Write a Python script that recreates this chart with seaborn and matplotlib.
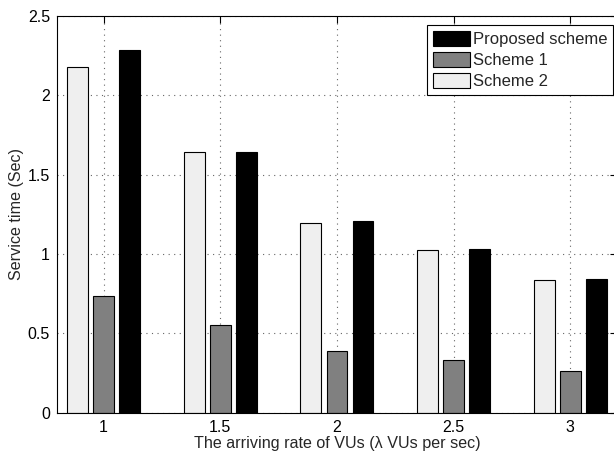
import matplotlib
matplotlib.use("Agg")
import matplotlib.pyplot as plt
import pandas as pd
import seaborn as sns

# Arrival rate (lambda VUs per sec) and mean service time of each scheme
rates = [1.0, 1.5, 2.0, 2.5, 3.0]
scheme2 = [2.18, 1.64, 1.195, 1.025, 0.835]
scheme1 = [0.735, 0.555, 0.39, 0.332, 0.263]
proposed = [2.288, 1.645, 1.206, 1.034, 0.84]

series_names = ["Scheme 2", "Scheme 1", "Proposed scheme"]
legend_order = ["Proposed scheme", "Scheme 1", "Scheme 2"]
x_tick_labels = ["1", "1.5", "2", "2.5", "3"]
y_ticks = [0, 0.5, 1.0, 1.5, 2.0, 2.5]
y_tick_labels = ["0", "0.5", "1", "1.5", "2", "2.5"]

df = pd.DataFrame({
    "rate": rates * 3,
    "time": scheme2 + scheme1 + proposed,
    "scheme": [n for n in series_names for _ in rates],
})

sns.set_style("white")
plt.rcParams["font.family"] = ["Liberation Sans", "DejaVu Sans"]

fig = plt.figure(figsize=(6.14, 4.54), dpi=100)
ax = fig.add_axes([0.0928, 0.091, 0.912, 0.874])
ax.set_axisbelow(True)

palette = {"Scheme 2": "#efefef", "Scheme 1": "#808080", "Proposed scheme": "#000000"}
sns.barplot(data=df, x="rate", y="time", hue="scheme", hue_order=series_names,
            palette=palette, native_scale=True, width=0.67, gap=0.2,
            edgecolor="black", linewidth=0.8, errorbar=None, saturation=1,
            ax=ax)

ax.set_xlim(0.8, 3.2)
ax.set_ylim(0, 2.5)
ax.set_xticks(rates)
ax.set_xticklabels(x_tick_labels)
ax.set_yticks(y_ticks)
ax.set_yticklabels(y_tick_labels)

ax.grid(True, linestyle=(0, (1, 4)), color="0.4", linewidth=0.8)
ax.tick_params(direction="in", top=True, right=True, length=5, width=0.8,
               labelsize=11.5, colors="black", pad=5)
for sp in ax.spines.values():
    sp.set_visible(True)
    sp.set_color("black")
    sp.set_linewidth(0.8)

ax.set_xlabel("The arriving rate of VUs (λ VUs per sec)", fontsize=11.6, labelpad=1)
ax.set_ylabel("Service time (Sec)", fontsize=11.6, labelpad=3)

handles, labels = ax.get_legend_handles_labels()
lookup = dict(zip(labels, handles))
leg = ax.legend([lookup[n] for n in legend_order], legend_order,
                loc="upper right", bbox_to_anchor=(0.993, 0.977),
                borderaxespad=0, fontsize=12, fancybox=False, framealpha=1,
                edgecolor="black", handlelength=2.25, handleheight=1.0,
                handletextpad=0.15, labelspacing=0.3, borderpad=0.35)
leg.get_frame().set_linewidth(0.8)

fig.savefig("out.png", dpi=100)
